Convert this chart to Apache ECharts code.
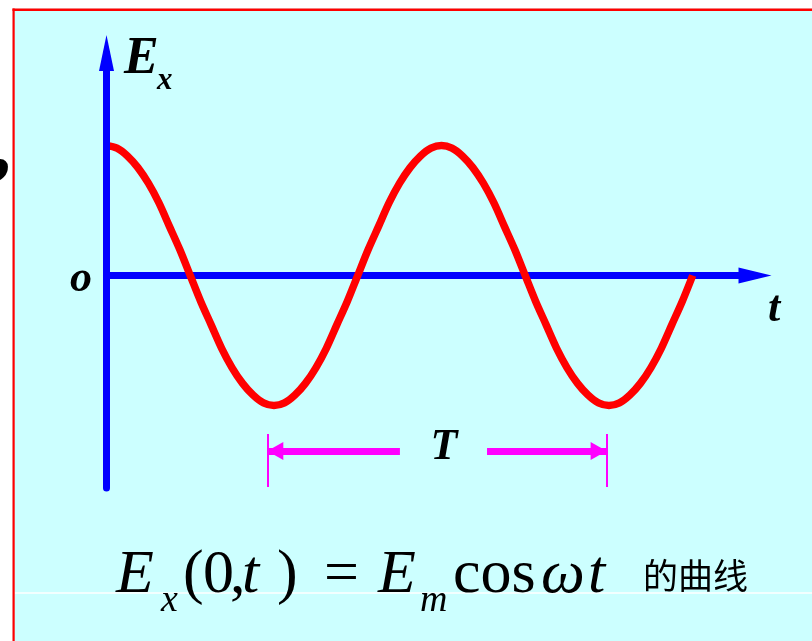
<!DOCTYPE html>
<html>
<head>
<meta charset="utf-8">
<script src="https://cdn.jsdelivr.net/npm/echarts@6/dist/echarts.min.js"></script>
<style>
  html, body { margin: 0; padding: 0; background: #ffffff; }
  #chart { width: 812px; height: 641px; }
</style>
</head>
<body>
<div id="chart"></div>
<script>
// ---- data (t in units of the period T, Ex in units of Em) ----
const tValues = [0, 0.03125, 0.0625, 0.09375, 0.125, 0.15625, 0.1875, 0.21875,
  0.25, 0.28125, 0.3125, 0.34375, 0.375, 0.40625, 0.4375, 0.46875,
  0.5, 0.53125, 0.5625, 0.59375, 0.625, 0.65625, 0.6875, 0.71875,
  0.75, 0.78125, 0.8125, 0.84375, 0.875, 0.90625, 0.9375, 0.96875,
  1, 1.03125, 1.0625, 1.09375, 1.125, 1.15625, 1.1875, 1.21875,
  1.25, 1.28125, 1.3125, 1.34375, 1.375, 1.40625, 1.4375, 1.46875,
  1.5, 1.53125, 1.5625, 1.59375, 1.625, 1.65625, 1.6875, 1.71875, 1.75];
const exValues = [1.00, 0.98, 0.92, 0.83, 0.71, 0.56, 0.38, 0.20,
  0.00, -0.20, -0.38, -0.56, -0.71, -0.83, -0.92, -0.98,
  -1.00, -0.98, -0.92, -0.83, -0.71, -0.56, -0.38, -0.20,
  0.00, 0.20, 0.38, 0.56, 0.71, 0.83, 0.92, 0.98,
  1.00, 0.98, 0.92, 0.83, 0.71, 0.56, 0.38, 0.20,
  0.00, -0.20, -0.38, -0.56, -0.71, -0.83, -0.92, -0.98,
  -1.00, -0.98, -0.92, -0.83, -0.71, -0.56, -0.38, -0.20, 0.00];

// period marker (T)
const periodStart = 0.48;
const periodEnd = 1.493;
const periodGapStart = 0.876;
const periodGapEnd = 1.136;
const periodLevel = -1.35;
const periodTickTop = -1.219;
const periodTickBottom = -1.627;

// axis ranges
const tMin = 0, tMax = 1.936;
const eMin = -1.6346, eMax = 1.7115;

// labels
const yAxisLabel = 'E';
const yAxisSub = 'x';
const originLabel = 'o';
const xAxisLabel = 't';
const periodLabel = 'T';
const captionChinese = '的曲线';

const points = tValues.map((t, i) => [t, exValues[i]]);

const BLUE = '#0000FF', RED = '#FF0000', MAG = '#FF00FF', CYAN = '#CCFFFF';
const serif = '"Liberation Serif", "Times New Roman", serif';
const boldItalic = (s) => 'italic bold ' + s + 'px ' + serif;
const italic = (s) => 'italic ' + s + 'px ' + serif;
const normal = (s) => s + 'px ' + serif;

function txt(text, x, y, font, align, z) {
  return { type: 'text', z: z || 20, silent: true,
    style: { text: text, x: x, y: y, font: font, fill: '#000000', align: align || 'left', verticalAlign: 'middle' } };
}

const chart = echarts.init(document.getElementById('chart'), null, { renderer: 'canvas' });
chart.setOption({
  animation: false,
  backgroundColor: CYAN,
  grid: { left: 106.5, top: 53, right: 57, bottom: 153, containLabel: false },
  xAxis: {
    type: 'value', min: tMin, max: tMax,
    axisLine: { show: true, onZero: true, symbol: ['none', 'triangle'], symbolSize: [16, 33],
      lineStyle: { color: BLUE, width: 7 } },
    axisTick: { show: false }, axisLabel: { show: false }, splitLine: { show: false }
  },
  yAxis: {
    type: 'value', min: eMin, max: eMax, z: 5,
    axisLine: { show: true, onZero: true, symbol: ['none', 'triangle'], symbolSize: [15, 36],
      lineStyle: { color: BLUE, width: 7 } },
    axisTick: { show: false }, axisLabel: { show: false }, splitLine: { show: false }
  },
  series: [{
    type: 'line',
    data: points,
    smooth: 0.3,
    showSymbol: false,
    silent: true,
    lineStyle: { color: RED, width: 7.5, cap: 'butt', join: 'round' },
    markLine: {
      silent: true,
      symbol: ['none', 'none'],
      label: { show: false },
      emphasis: { disabled: true },
      lineStyle: { color: MAG, type: 'solid' },
      data: [
        [{ coord: [periodStart, periodTickTop], lineStyle: { width: 2, color: MAG, type: 'solid' } },
         { coord: [periodStart, periodTickBottom] }],
        [{ coord: [periodEnd, periodTickTop], lineStyle: { width: 2, color: MAG, type: 'solid' } },
         { coord: [periodEnd, periodTickBottom] }],
        [{ coord: [periodStart, periodLevel], symbol: 'triangle', symbolSize: [18, 16], symbolOffset: [0, 8],
           lineStyle: { width: 7, color: MAG, type: 'solid' } },
         { coord: [periodGapStart, periodLevel], symbol: 'none' }],
        [{ coord: [periodGapEnd, periodLevel], symbol: 'none', lineStyle: { width: 7, color: MAG, type: 'solid' } },
         { coord: [periodEnd, periodLevel], symbol: 'triangle', symbolSize: [18, 16], symbolOffset: [0, 8] }]
      ]
    }
  }],
  graphic: [
    // page margins and red frame
    { type: 'rect', z: 1, silent: true, shape: { x: 0, y: 0, width: 812, height: 8.5 }, style: { fill: '#ffffff' } },
    { type: 'rect', z: 1, silent: true, shape: { x: 0, y: 0, width: 12.5, height: 641 }, style: { fill: '#ffffff' } },
    { type: 'rect', z: 2, silent: true, shape: { x: 12.5, y: 8.5, width: 800, height: 2.6 }, style: { fill: RED } },
    { type: 'rect', z: 2, silent: true, shape: { x: 12.5, y: 8.5, width: 2.2, height: 633 }, style: { fill: RED } },
    { type: 'line', z: 1, silent: true, shape: { x1: 14.7, y1: 593, x2: 812, y2: 593 }, style: { stroke: '#ffffff', lineWidth: 1.5 } },
    // cropped glyph at left edge
    txt(',', -9, 150, 'bold 80px ' + serif, 'left'),
    // axis labels
    txt(yAxisLabel, 124, 59.5, boldItalic(52)),
    txt(yAxisSub, 157, 80.9, boldItalic(31)),
    txt(originLabel, 70, 280, boldItalic(44)),
    txt(xAxisLabel, 768, 310, boldItalic(44)),
    txt(periodLabel, 444, 448, boldItalic(44), 'center'),
    // formula  Ex(0,t) = Em cos ωt
    txt('E', 116, 576, italic(62)),
    txt('x', 161, 601, italic(38)),
    txt('(', 183, 576, normal(62)),
    txt('0', 203, 576, normal(62)),
    txt(',', 230, 576, normal(62)),
    txt('t', 242, 576, italic(62)),
    txt(')', 277, 576, normal(62)),
    txt('=', 324, 576, normal(62)),
    txt('E', 378, 576, italic(62)),
    txt('m', 420, 601, italic(38)),
    txt('cos', 453, 576, normal(62)),
    txt('\u03c9', 541, 576, italic(62)),
    txt('t', 588, 576, italic(62)),
    txt(captionChinese, 643, 576, '35px "Noto Sans CJK SC", sans-serif')
  ]
});
</script>
</body>
</html>
